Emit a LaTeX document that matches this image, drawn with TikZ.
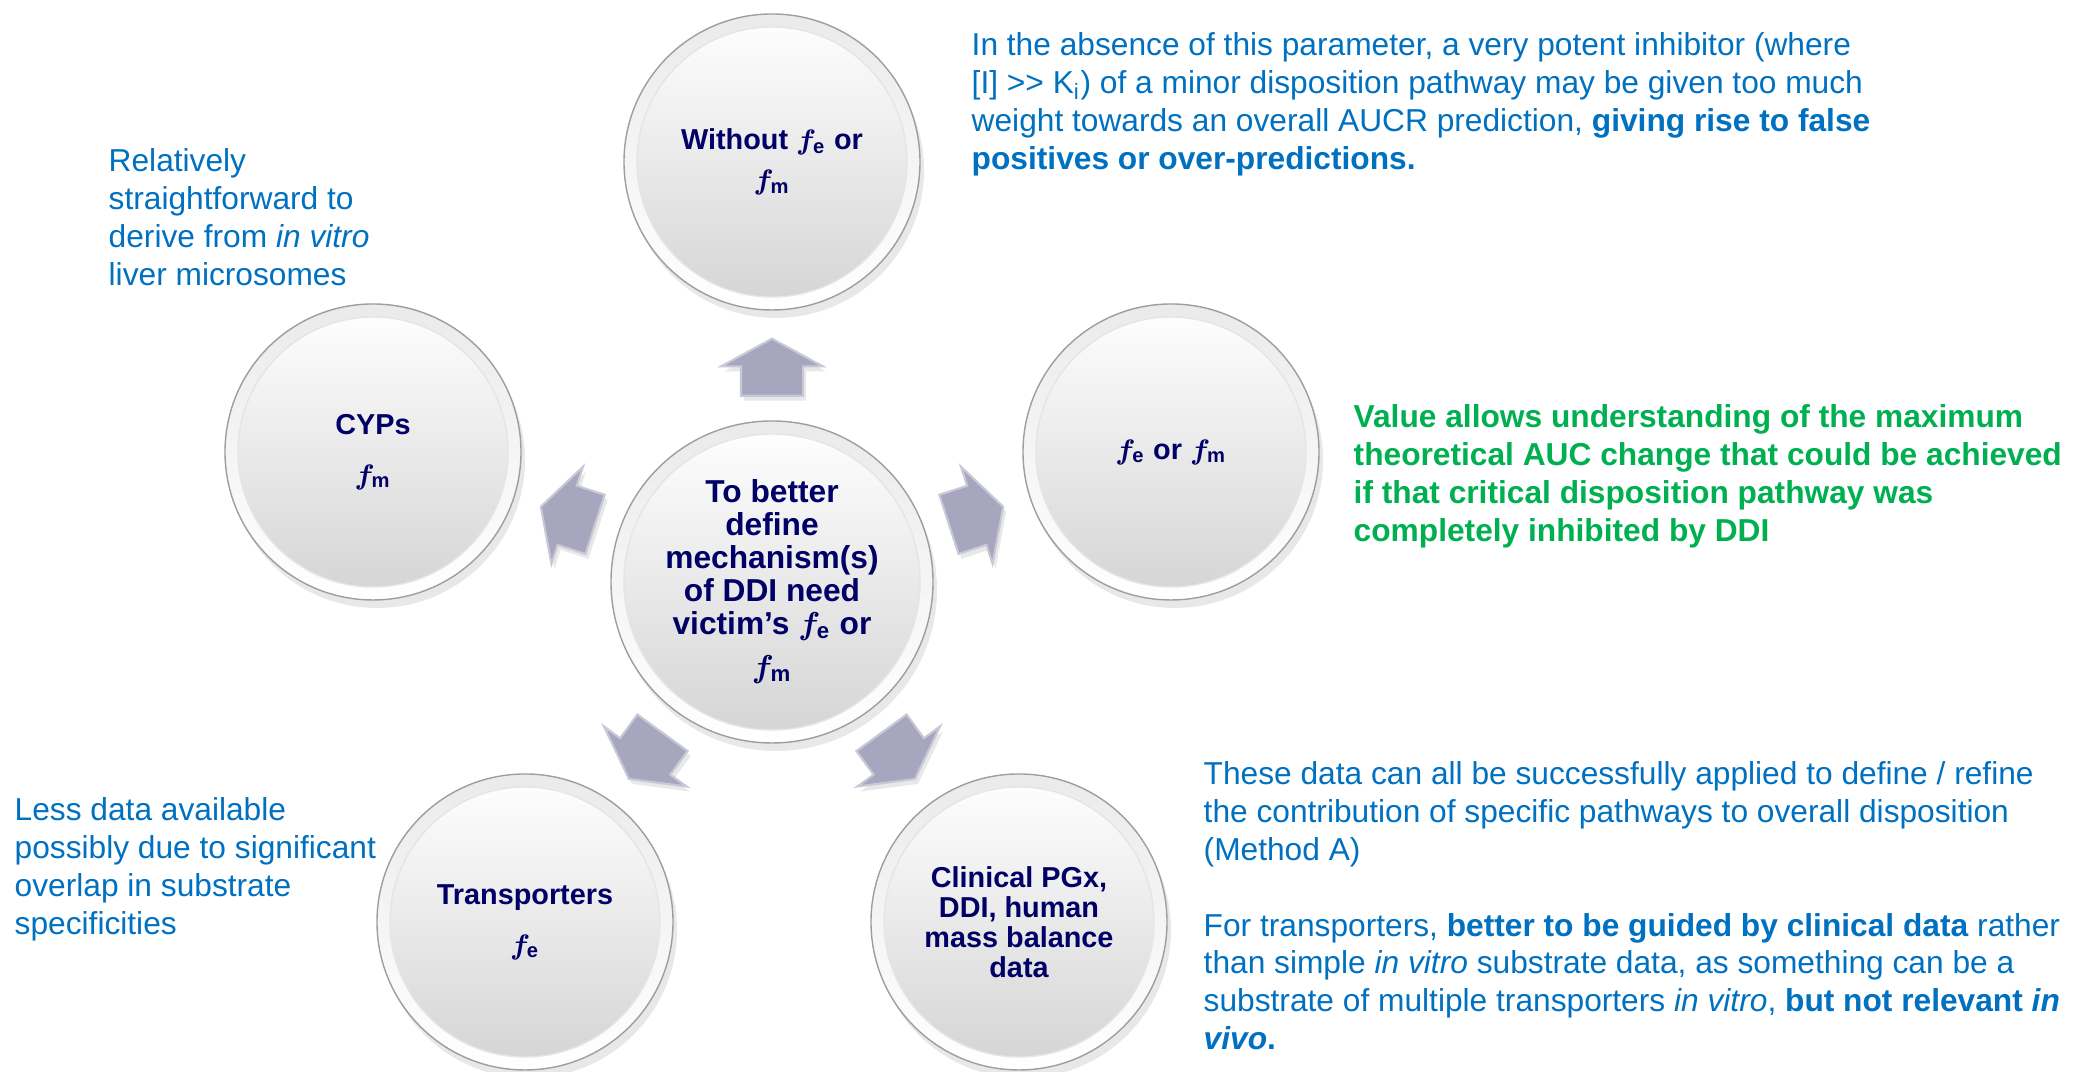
\documentclass[tikz,border=0pt]{standalone}
\usepackage{amsmath}
\usepackage{fontspec}
\setmainfont{Liberation Sans}
\usepackage{tikz}
\usetikzlibrary{shapes.arrows}
\usetikzlibrary{shadows}
\usetikzlibrary{calc}

\definecolor{navy}{RGB}{0,0,102}
\definecolor{textblue}{RGB}{0,112,192}
\definecolor{textgreen}{RGB}{0,176,80}
\definecolor{arrowfill}{RGB}{166,166,190}
\definecolor{arrowedge}{RGB}{200,200,214}

\newcommand{\fsym}[1]{$f_{\textbf{#1}}$}

\tikzset{
  knob/.style={circle,minimum size=#1,draw=black!38,line width=0.4pt,
    top color=black!8,bottom color=white,
    drop shadow={shadow xshift=0.4mm,shadow yshift=-0.8mm,opacity=0.18},
    path picture={\shade[top color=white,bottom color=black!17,draw=black!10]
      (path picture bounding box.center) circle[radius=#1/2-0.13cm];},
    align=center,text=navy,font=\fontsize{8.2}{8.54}\selectfont\bfseries\boldmath},
  blockarrow/.style={single arrow,single arrow head extend=0.2cm,
    single arrow tip angle=123,inner xsep=0pt,inner ysep=0.3cm,minimum height=0.57cm,
    fill=arrowfill,draw=arrowedge,line width=0.6pt,anchor=tail,
    drop shadow={shadow xshift=0.3mm,shadow yshift=-0.5mm,opacity=0.18}},
  remark/.style={anchor=base west,align=left,
    font=\fontsize{9.02}{10.81}\selectfont},
}

\begin{document}
\begin{tikzpicture}[inner sep=0pt]
      % 画像サイズに合わせた枠
      \useasboundingbox (0,0) rectangle (20.74,10.72);

      % 中央の円
      \node[knob=3.22cm,font=\fontsize{9.02}{9.39}\selectfont\bfseries\boldmath]
        (hub) at (7.72,4.90){%
        To better\\ define\\ mechanism(s)\\ of DDI need\\
        victim’s \fsym{e} or\\[2.8pt] \fsym{m}};

      % 周りの円(五角形に配置)
      \node[knob=2.96cm] (without) at (7.72,9.10){%
        Without \fsym{e} or\\[2.8pt] \fsym{m}};
      \node[knob=2.96cm] (cyps) at (3.73,6.20){%
        CYPs\\[5.7pt] \fsym{m}};
      \node[knob=2.96cm] (either) at (11.71,6.20){%
        \fsym{e} or \fsym{m}};
      \node[knob=2.96cm] (transp) at (5.25,1.50){%
        Transporters\\[5.7pt] \fsym{e}};
      \node[knob=2.96cm] (clinical) at (10.19,1.50){%
        Clinical PGx,\\ DDI, human\\ mass balance\\ data};

      % 矢印
      \node[blockarrow,rotate=90] (toWithout) at ($(hub)!0.441!(without)$){};
      \node[blockarrow,rotate=162] (toCyps) at ($(hub)!0.441!(cyps)$){};
      \node[blockarrow,rotate=18] (toEither) at ($(hub)!0.441!(either)$){};
      \node[blockarrow,rotate=234] (toTransp) at ($(hub)!0.441!(transp)$){};
      \node[blockarrow,rotate=306] (toClinical) at ($(hub)!0.441!(clinical)$){};

      % 説明文(座標は最終行のベースライン)
      \node[remark,text=textblue] (absence) at (9.71,9.02){%
        In the absence of this parameter, a very potent inhibitor (where\\{}%
        [I] >{}> K\textsubscript{i}) of a minor disposition pathway may be given too much\\
        weight towards an overall AUCR prediction, \textbf{giving rise to false}\\
        \textbf{positives or over-predictions.}};
      \node[remark,text=textblue] (derive) at (1.08,7.86){%
        Relatively\\ straightforward to\\ derive from \textit{in vitro}\\
        liver microsomes};
      \node[remark,text=textgreen,font=\fontsize{9.02}{10.81}\selectfont\bfseries]
        (value) at (13.53,5.30){%
        Value allows understanding of the maximum\\
        theoretical AUC change that could be achieved\\
        if that critical disposition pathway was\\
        completely inhibited by DDI};
      \node[remark,text=textblue] (method) at (12.03,0.22){%
        These data can all be successfully applied to define / refine\\
        the contribution of specific pathways to overall disposition\\
        (Method A)\\[10.81pt]
        For transporters, \textbf{better to be guided by clinical data} rather\\
        than simple \textit{in vitro} substrate data, as something can be a\\
        substrate of multiple transporters \textit{in vitro}, \textbf{but not relevant \textit{in}}\\
        \textbf{\textit{vivo}.}};
      \node[remark,text=textblue] (lessdata) at (0.14,1.37){%
        Less data available\\ possibly due to significant\\
        overlap in substrate\\ specificities};
    \end{tikzpicture}
\end{document}
